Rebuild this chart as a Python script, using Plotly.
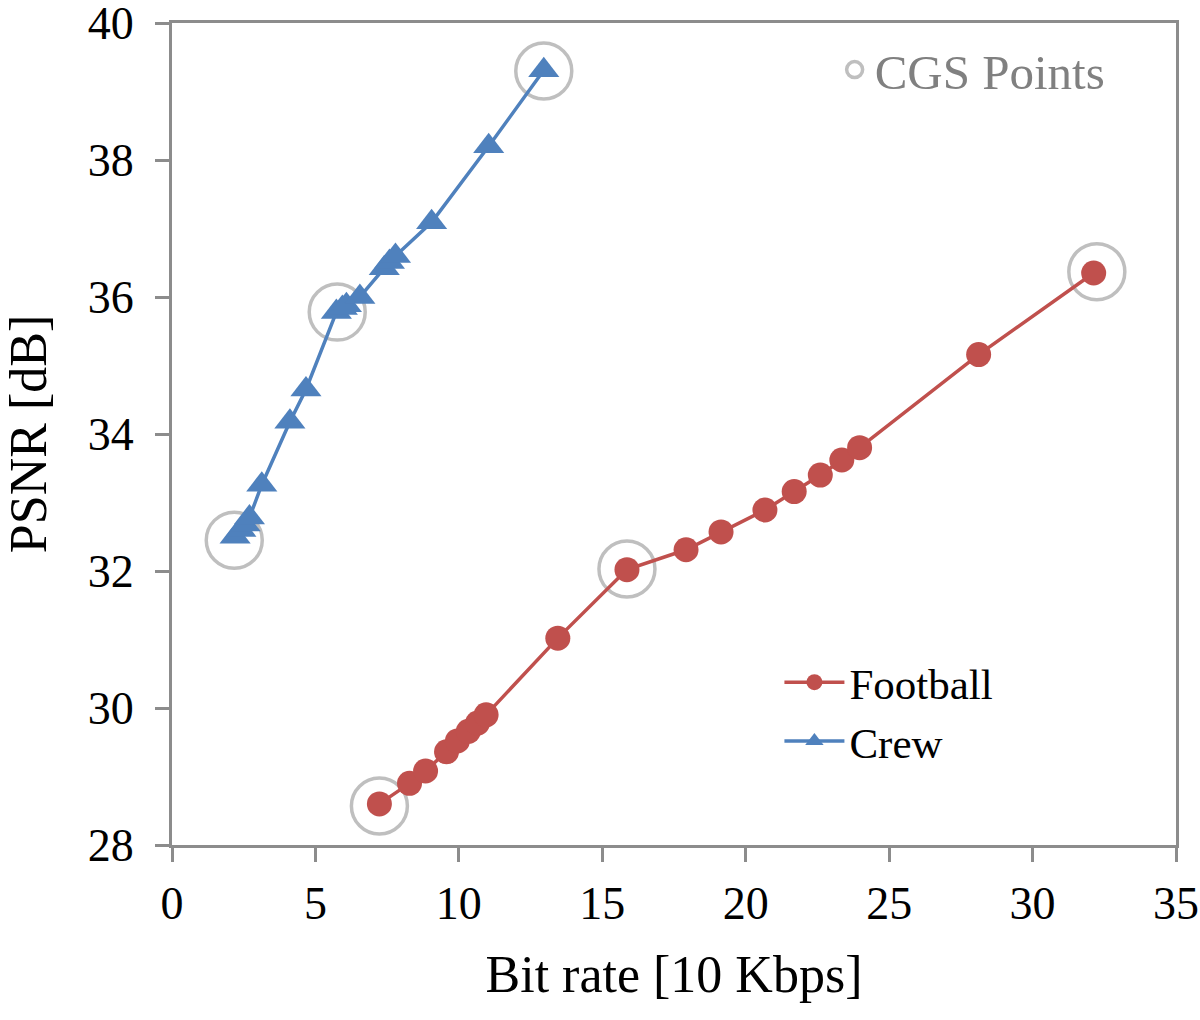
import plotly.graph_objects as go

football_x = [7.23, 8.28, 8.84, 9.57, 9.95, 10.33, 10.65, 10.95, 13.45, 15.86, 17.92, 19.14, 20.67, 21.69, 22.60, 23.35, 23.97, 28.12, 32.13]
football_y = [28.60, 28.90, 29.08, 29.36, 29.52, 29.66, 29.78, 29.90, 31.02, 32.02, 32.31, 32.57, 32.89, 33.16, 33.40, 33.62, 33.80, 35.16, 36.35]

crew_x = [2.2, 2.4, 2.55, 2.7, 3.13, 4.11, 4.67, 5.73, 5.94, 6.08, 6.55, 7.40, 7.58, 7.79, 9.05, 11.04, 12.96]
crew_y = [32.50, 32.60, 32.68, 32.78, 33.26, 34.18, 34.65, 35.78, 35.84, 35.88, 36.00, 36.42, 36.51, 36.60, 37.09, 38.20, 39.31]

cgs_x = [2.17, 5.76, 12.96, 7.23, 15.86, 32.24]
cgs_y = [32.45, 35.78, 39.30, 28.57, 32.03, 36.37]

x_ticks = [0, 5, 10, 15, 20, 25, 30, 35]
y_ticks = [28, 30, 32, 34, 36, 38, 40]

RED = "#C0504D"
BLUE = "#4F81BD"
GRAY = "#BFBFBF"
AXIS = "#8C8C8C"
FONT = "Liberation Serif"

fig = go.Figure()
fig.add_trace(go.Scatter(
    x=cgs_x, y=cgs_y, mode="markers", name="CGS Points",
    marker=dict(symbol="circle-open", size=56, color=GRAY, line=dict(width=3.5, color=GRAY)),
    legend="legend2",
))
fig.add_trace(go.Scatter(
    x=football_x, y=football_y, mode="lines+markers", name="Football",
    line=dict(color=RED, width=3.5),
    marker=dict(symbol="circle", size=25, color=RED),
))
fig.add_trace(go.Scatter(
    x=crew_x, y=crew_y, mode="lines+markers", name="Crew",
    line=dict(color=BLUE, width=3.5),
    marker=dict(symbol="triangle-up", size=27, color=BLUE),
))

axis_common = dict(
    showline=True, mirror=True, linecolor=AXIS, linewidth=3,
    ticks="outside", ticklen=14, tickwidth=3, tickcolor=AXIS,
    showgrid=False, zeroline=False, automargin=False,
    ticklabeloverflow="allow",
    tickfont=dict(family=FONT, size=46, color="black"),
)

fig.update_layout(
    width=1200, height=1020,
    margin=dict(l=172, r=24, t=23, b=175),
    paper_bgcolor="white", plot_bgcolor="white",
    font=dict(family=FONT, color="black"),
    xaxis=dict(range=[0, 35], tickvals=x_ticks, ticklabelstandoff=2,
               title=dict(text="Bit rate [10 Kbps]", font=dict(family=FONT, size=52), standoff=28),
               **axis_common),
    yaxis=dict(range=[28, 40], tickvals=y_ticks, ticklabelstandoff=12,
               title=dict(text="PSNR [dB]", font=dict(family=FONT, size=52), standoff=38),
               **axis_common),
    showlegend=True,
    legend=dict(x=0.605, y=0.24, xanchor="left", yanchor="top",
                bgcolor="rgba(0,0,0,0)", font=dict(family=FONT, size=43, color="black"),
                itemwidth=60, tracegroupgap=0),
    legend2=dict(x=0.66, y=0.99, xanchor="left", yanchor="top",
                 bgcolor="rgba(0,0,0,0)", font=dict(family=FONT, size=49, color="#808080"),
                 itemwidth=30),
)

fig.write_html(
    "out.html",
    config={"displayModeBar": False},
    post_script="document.body.style.margin='0';document.body.style.overflow='hidden';",
)
